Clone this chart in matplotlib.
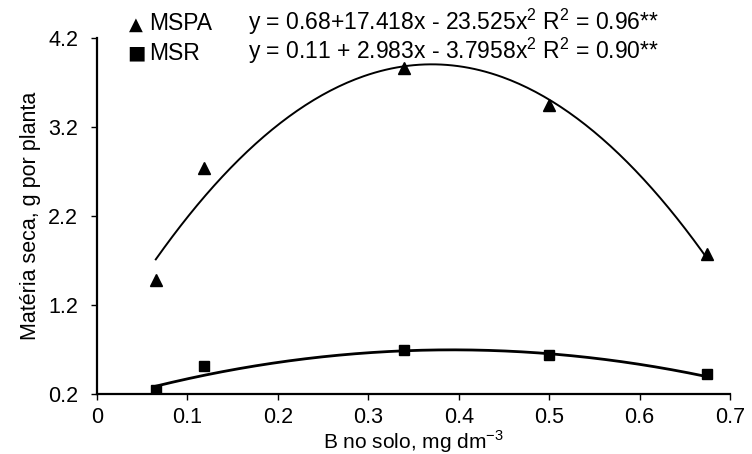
import numpy as np
import matplotlib
matplotlib.use("Agg")
import matplotlib.pyplot as plt

plt.rcParams['font.family'] = ['Liberation Sans', 'DejaVu Sans']
plt.rcParams['mathtext.fontset'] = 'custom'
plt.rcParams['mathtext.rm'] = 'Liberation Sans'

# Data
x_vals = [0.065, 0.118, 0.34, 0.50, 0.675]
mspa = [1.48, 2.74, 3.86, 3.45, 1.77]
msr = [0.24, 0.51, 0.69, 0.64, 0.42]
# Regression coefficients (c0, c1, c2) shown in the chart
mspa_coef = [0.68, 17.418, -23.525]
msr_coef = [0.11, 2.983, -3.7958]
mspa_eq = r"y = 0.68+17.418x - 23.525x$^\mathrm{2}$ R$^\mathrm{2}$ = 0.96**"
msr_eq = r"y = 0.11 + 2.983x - 3.7958x$^\mathrm{2}$ R$^\mathrm{2}$ = 0.90**"
x_ticks = [0, 0.1, 0.2, 0.3, 0.4, 0.5, 0.6, 0.7]
x_tick_labels = ["0", "0.1", "0.2", "0.3", "0.4", "0.5", "0.6", "0.7"]
y_ticks = [0.2, 1.2, 2.2, 3.2, 4.2]
y_tick_labels = ["0.2", "1.2", "2.2", "3.2", "4.2"]

FS = 15.5
W, H = 752, 454
fig = plt.figure(figsize=(W/100, H/100), dpi=100)
ax = fig.add_axes([97/W, 1-394/H, (730-97)/W, (394-38)/H])

xs = np.linspace(min(x_vals), max(x_vals), 200)
ax.plot(xs, np.polyval(mspa_coef[::-1], xs), color='black', lw=1.4)
ax.plot(xs, np.polyval(msr_coef[::-1], xs), color='black', lw=2.0)
ax.plot(x_vals, mspa, linestyle='none', marker='^', ms=8, color='black')
ax.plot(x_vals, msr, linestyle='none', marker='s', ms=7, color='black')

ax.set_xlim(0, 0.7)
ax.set_ylim(0.2, 4.2)
ax.set_xticks(x_ticks)
ax.set_xticklabels(x_tick_labels)
ax.set_yticks(y_ticks)
ax.set_yticklabels(y_tick_labels)
for s in ['top', 'right']:
    ax.spines[s].set_visible(False)
for s in ['left', 'bottom']:
    ax.spines[s].set_linewidth(1.6)
ax.tick_params(axis='both', direction='out', length=4.5, width=1, labelsize=FS, colors='black')
ax.tick_params(axis='x', pad=5)
ax.tick_params(axis='y', pad=9)
ax.set_xlabel(r"B no solo, mg dm$^\mathrm{-3}$", fontsize=15, labelpad=0)
ax.set_ylabel("Matéria seca, g por planta", fontsize=FS, labelpad=5)

# legend-like annotations
fig.text(136/W, 1-25/H, "▲", fontsize=13, ha='center', va='center', family=['DejaVu Sans'])
fig.text(149/W, 1-24/H, "MSPA", fontsize=16.5, ha='left', va='center')
fig.text(136/W, 1-53/H, "■", fontsize=14, ha='center', va='center', family=['DejaVu Sans'])
fig.text(149/W, 1-53/H, "MSR", fontsize=16.5, ha='left', va='center')
fig.text(248/W, 1-22/H, mspa_eq, fontsize=16.5, ha='left', va='center')
fig.text(248/W, 1-51/H, msr_eq, fontsize=16.5, ha='left', va='center')

fig.savefig("out.png", dpi=100)
